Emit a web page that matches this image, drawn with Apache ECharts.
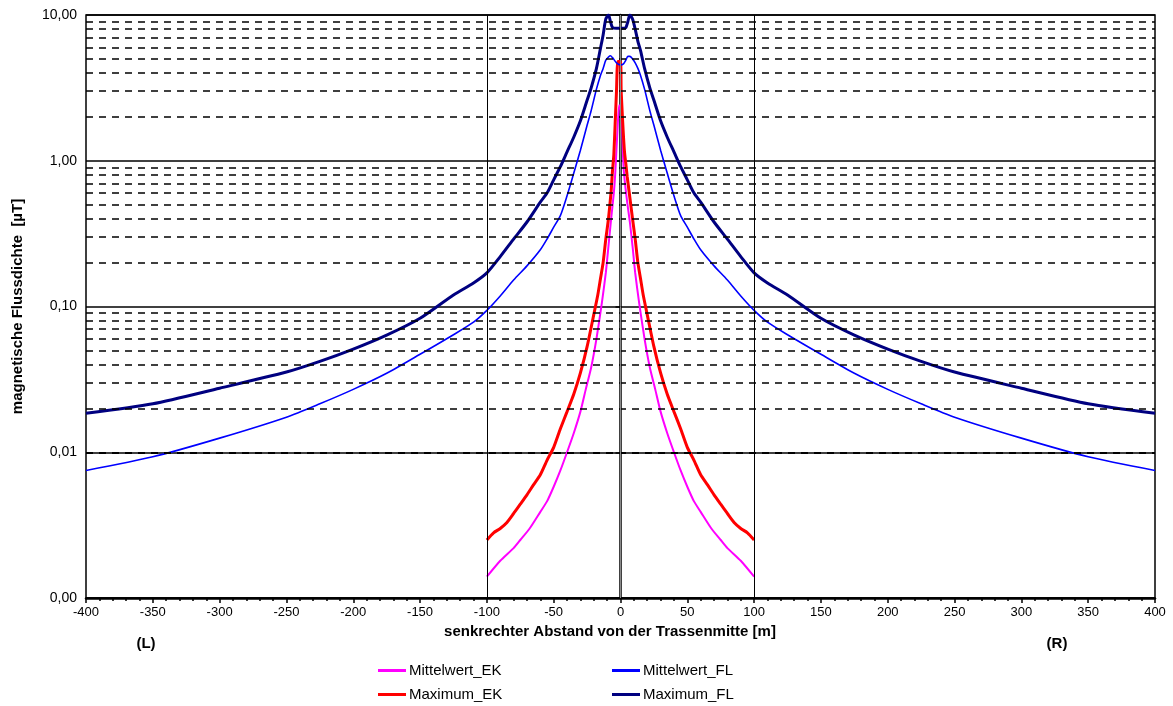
<!DOCTYPE html>
<html><head><meta charset="utf-8">
<script src="https://cdn.jsdelivr.net/npm/echarts@6/dist/echarts.min.js"></script>
<style>html,body{margin:0;padding:0;background:#fff}#c{width:1173px;height:706px}</style>
</head><body><div id="c"></div>
<script>
// ---- data ----
const flX = [-400,-350,-300,-250,-225,-200,-175,-150,-125,-110,-100,-90,-80,-70,-60,-55,-50,-45,-40,-35,-30,-25,-22,-18,-15,-13,-11,-9,-7.5,-6,-3,0,2,4,5.5,7,9,11,13,15,18,22,25,30,35,40,45,50,55,60,70,80,90,100,110,125,150,175,200,225,250,300,350,400];
const maxFL = [0.0185,0.0215,0.0275,0.0355,0.042,0.051,0.0636,0.083,0.12,0.145,0.17,0.22,0.29,0.38,0.52,0.60,0.74,0.91,1.15,1.45,1.88,2.6,3.15,4.3,5.9,7.3,9.4,10.0,9.0,8.2,8.1,8.1,8.1,8.2,9.0,10.0,9.4,8.0,6.6,5.7,4.3,3.15,2.6,1.88,1.45,1.15,0.91,0.74,0.60,0.52,0.38,0.29,0.22,0.17,0.145,0.12,0.083,0.0636,0.051,0.042,0.0355,0.0275,0.0215,0.0185];
const mittelFL = [0.0075,0.0093,0.0125,0.0174,0.0215,0.027,0.0348,0.047,0.064,0.078,0.094,0.118,0.152,0.19,0.245,0.29,0.35,0.42,0.575,0.82,1.18,1.75,2.2,3.1,3.85,4.3,4.9,5.15,5.25,5.1,4.7,4.55,4.6,4.9,5.2,5.2,5.0,4.7,4.3,3.85,3.1,2.2,1.75,1.18,0.82,0.575,0.42,0.35,0.29,0.245,0.19,0.152,0.118,0.094,0.078,0.064,0.047,0.0348,0.027,0.0215,0.0174,0.0125,0.0093,0.0075];
const maxEKX = [-100,-95,-90,-85,-80,-75,-70,-65,-60,-55,-50,-45,-40,-35,-30,-25,-20,-17,-15,-13,-11,-9,-7,-6,-5,-4,-3,-2,0,0.5,2,3,4,5,6,7,9,11,13,15,17,20,25,30,35,40,45,50,55,60,65,70,75,80,85,90,95,100];
const maxEK = [0.0025,0.0028,0.0030,0.0033,0.0038,0.0044,0.0051,0.0060,0.0070,0.0088,0.0108,0.0145,0.019,0.025,0.035,0.053,0.088,0.12,0.155,0.2,0.29,0.40,0.62,0.85,1.1,1.8,3.0,4.8,4.8,3.0,1.6,1.15,0.95,0.78,0.66,0.56,0.40,0.29,0.2,0.155,0.12,0.088,0.053,0.035,0.025,0.019,0.0145,0.0108,0.0088,0.0070,0.0060,0.0051,0.0044,0.0038,0.0033,0.0030,0.0028,0.0025];
const mittelEKX = [-100,-90,-80,-75,-68,-60,-55,-50,-45,-40,-35,-30,-26,-22,-18,-14,-11,-9,-7,-5,-4,-3,-2,-1,0,1,2,3,5,7,9,11,14,18,22,26,30,35,40,45,50,55,60,68,75,80,90,100];
const mittelEK = [0.0014,0.0018,0.0022,0.0025,0.003,0.0039,0.0046,0.0058,0.0075,0.0100,0.0135,0.019,0.027,0.038,0.06,0.105,0.17,0.26,0.4,0.6,0.8,1.2,1.8,2.4,2.3,2.0,1.0,0.75,0.52,0.38,0.26,0.17,0.105,0.06,0.038,0.027,0.019,0.0135,0.0100,0.0075,0.0058,0.0046,0.0039,0.003,0.0025,0.0022,0.0018,0.0014];
const yMinorGrid = [0.002,0.003,0.004,0.005,0.006,0.007,0.008,0.009,0.02,0.03,0.04,0.05,0.06,0.07,0.08,0.09,0.2,0.3,0.4,0.5,0.6,0.7,0.8,0.9,2,3,4,5,6,7,8,9];
const vLines = [-100, 0, 100];
const seriesNames = ['Mittelwert_EK','Maximum_EK','Mittelwert_FL','Maximum_FL'];
const xTitle = 'senkrechter Abstand von der Trassenmitte [m]';
const yTitle = 'magnetische Flussdichte  [µT]';

// ---- chart ----
const FONT = '"Liberation Sans", Arial, sans-serif';
const pairs = (xs, ys) => xs.map((x, i) => [x, ys[i]]);
const fmt = v => Number(v).toFixed(2).replace('.', ',');

const chart = echarts.init(document.getElementById('c'), null, {renderer: 'canvas'});

function legendAt(name, left, top) {
  return {
    data: [name], left: left, top: top, padding: 0, orient: 'horizontal',
    icon: 'rect', itemWidth: 28, itemHeight: 3, itemGap: 4, selectedMode: false,
    textStyle: {color: '#000', fontSize: 15, fontFamily: FONT, padding: [0, 0, 0, -2]}
  };
}

const option = {
  animation: false,
  backgroundColor: '#fff',
  textStyle: {fontFamily: FONT},
  grid: {left: 86, right: 18, top: 15, bottom: 108, show: true, borderColor: '#000', borderWidth: 1.5},
  xAxis: {
    type: 'value', min: -400, max: 400, interval: 50,
    axisLine: {show: true, onZero: false, lineStyle: {color: '#000', width: 2.5}},
    axisTick: {show: true, length: 5, lineStyle: {color: '#000', width: 1.5}},
    minorTick: {show: true, splitNumber: 5, length: 3, lineStyle: {color: '#000', width: 1.5}},
    axisLabel: {color: '#000', fontSize: 13, margin: 8, fontFamily: FONT},
    splitLine: {show: false}
  },
  yAxis: {
    type: 'log', logBase: 10, min: 0.001, max: 10,
    axisLine: {show: true, lineStyle: {color: '#000', width: 2.5}},
    axisTick: {show: true, length: 5, lineStyle: {color: '#000', width: 1.5}},
    axisLabel: {formatter: fmt, color: '#000', fontSize: 14, margin: 9, fontFamily: FONT},
    splitLine: {show: true, lineStyle: {color: '#000', width: 1.5}},
    name: yTitle, nameLocation: 'middle', nameGap: 61,
    nameTextStyle: {fontWeight: 'bold', fontSize: 15, color: '#000', fontFamily: FONT}
  },
  legend: [
    legendAt('Mittelwert_EK', 378, 663),
    legendAt('Maximum_EK', 378, 687),
    legendAt('Mittelwert_FL', 612, 663),
    legendAt('Maximum_FL', 612, 687)
  ],
  graphic: [
    {type: 'text', x: 610, y: 624, style: {text: xTitle, fill: '#000', align: 'center', font: 'bold 15px ' + FONT}},
    {type: 'text', x: 146, y: 636, style: {text: '(L)', fill: '#000', align: 'center', font: 'bold 15px ' + FONT}},
    {type: 'text', x: 1057, y: 636, style: {text: '(R)', fill: '#000', align: 'center', font: 'bold 15px ' + FONT}}
  ],
  series: [
    {
      name: 'gridlines', type: 'line', data: [], z: 1, silent: true,
      markLine: {
        silent: true, symbol: ['none', 'none'], label: {show: false}, animation: false,
        data: yMinorGrid.map(v => ({yAxis: v, lineStyle: {color: '#000', width: 1.5, type: [7, 6]}}))
          .concat(vLines.map(v => ({xAxis: v, lineStyle: {color: v === 0 ? '#8a8a8a' : '#000', width: 1, type: 'solid'}})))
      }
    },
    {name: seriesNames[0], type: 'line', data: pairs(mittelEKX, mittelEK), showSymbol: false, z: 3,
      smooth: 0.2,
      lineStyle: {color: '#FF00FF', width: 2}, itemStyle: {color: '#FF00FF'}},
    {name: seriesNames[1], type: 'line', data: pairs(maxEKX, maxEK), showSymbol: false, z: 4,
      smooth: 0.2,
      lineStyle: {color: '#FF0000', width: 3}, itemStyle: {color: '#FF0000'}},
    {name: seriesNames[2], type: 'line', data: pairs(flX, mittelFL), showSymbol: false, z: 4,
      smooth: 0.25,
      lineStyle: {color: '#0000FF', width: 1.6}, itemStyle: {color: '#0000FF'}},
    {name: seriesNames[3], type: 'line', data: pairs(flX, maxFL), showSymbol: false, z: 4,
      smooth: 0.25,
      lineStyle: {color: '#000080', width: 3}, itemStyle: {color: '#000080'}}
  ]
};
chart.setOption(option);
</script>
</body></html>
